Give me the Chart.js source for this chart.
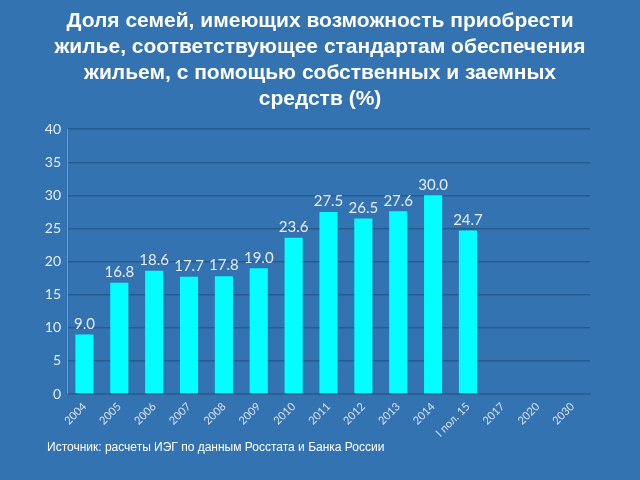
<!DOCTYPE html>
<html lang="ru">
<head>
<meta charset="UTF-8">
<title>Доля семей</title>
<script src="https://cdn.jsdelivr.net/npm/chart.js"></script>
<style>
  html, body { margin: 0; padding: 0; background: #3473b1; }
  #wrap { width: 640px; height: 480px; position: relative; }
  #source {
    position: absolute; left: 47px; top: 440px;
    font: 12px "Liberation Sans", Arial, sans-serif; color: #ffffff;
  }
</style>
</head>
<body>
<div id="wrap">
  <canvas id="chart"></canvas>
  <div id="source"></div>
</div>
<script>
// data
const years = ['2004', '2005', '2006', '2007', '2008', '2009', '2010', '2011', '2012', '2013', '2014', 'I пол. 15', '2017', '2020', '2030'];
const shares = [9.0, 16.8, 18.6, 17.7, 17.8, 19.0, 23.6, 27.5, 26.5, 27.6, 30.0, 24.7, null, null, null];
const titleLines = [
  'Доля семей, имеющих возможность приобрести',
  'жилье, соответствующее стандартам обеспечения',
  'жильем, с помощью собственных и заемных',
  'средств (%)'
];
const sourceText = 'Источник: расчеты ИЭГ по данным Росстата и Банка России';

document.getElementById('source').textContent = sourceText;

// values above the bars
const valueLabels = {
  id: 'valueLabels',
  afterDatasetsDraw(chart) {
    const ctx = chart.ctx;
    const meta = chart.getDatasetMeta(0);
    ctx.save();
    ctx.font = '15px Lato, sans-serif';
    ctx.fillStyle = '#e6ecf4';
    ctx.textAlign = 'center';
    ctx.textBaseline = 'bottom';
    meta.data.forEach((bar, i) => {
      const v = shares[i];
      if (v == null) return;
      ctx.fillText(v.toFixed(1), bar.x, bar.y - 3);
    });
    ctx.restore();
  }
};

new Chart(document.getElementById('chart'), {
  type: 'bar',
  data: {
    labels: years,
    datasets: [{
      data: shares,
      backgroundColor: '#00ffff',
      barPercentage: 0.52,
      categoryPercentage: 1
    }]
  },
  options: {
    responsive: true,
    maintainAspectRatio: false,
    animation: false,
    layout: { padding: { left: 25, right: 25, top: 0, bottom: 40 } },
    plugins: {
      legend: { display: false },
      tooltip: { enabled: false },
      title: {
        display: true,
        text: titleLines,
        color: '#ffffff',
        font: { family: 'Liberation Sans, Arial, sans-serif', size: 21, weight: 'bold', lineHeight: 1.24 },
        padding: { top: 8, bottom: 17 }
      }
    },
    scales: {
      x: {
        grid: { display: false, drawTicks: false },
        border: { color: '#2b5f92', width: 1.5 },
        ticks: {
          color: '#d8e2ee',
          font: { family: 'Lato, sans-serif', size: 11 },
          minRotation: 45,
          maxRotation: 45,
          padding: 6
        },
        afterFit(scale) { scale.height = 46; }
      },
      y: {
        min: 0,
        max: 40,
        grid: { color: '#285b8d', lineWidth: 1.5, drawTicks: false },
        border: { color: '#6f95bf' },
        ticks: {
          stepSize: 5,
          color: '#e6ecf4',
          font: { family: 'Lato, sans-serif', size: 14 },
          padding: 6
        },
        afterFit(scale) { scale.width = 42; }
      },
      // empty spacer on the right so the title stays centred on the page
      spacer: {
        type: 'linear',
        position: 'right',
        display: true,
        grid: { display: false, drawTicks: false },
        border: { display: false },
        ticks: { display: false },
        afterFit(scale) { scale.width = 25; }
      }
    }
  },
  plugins: [valueLabels]
});
</script>
</body>
</html>
